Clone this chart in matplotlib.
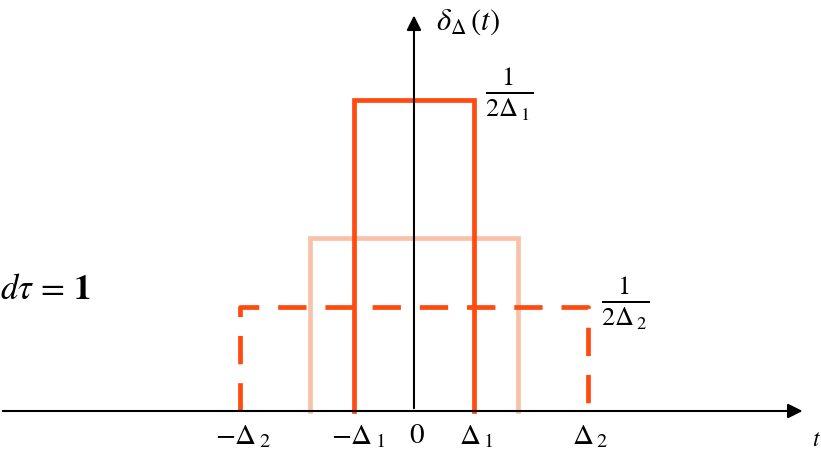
import matplotlib
matplotlib.use('Agg')
import matplotlib.pyplot as plt

plt.rcParams['mathtext.fontset'] = 'stix'
plt.rcParams['font.family'] = 'Liberation Serif'

# pulse half-widths (in units of Delta_1) and heights
half_widths = [1.03, 1.8, 3.0]
heights = [0.5, 0.278, 0.5 / 3.0]
colors = ['#ff4a10', '#f8c2aa', '#ff4a10']
styles = ['-', '-', '--']
order = [1, 2, 0]

tick_pos = [-3.0, -1.0, 0.0, 1.03, 3.0]
tick_labels = [r'$-\Delta\,_2$', r'$-\Delta\,_1$', r'$0$', r'$\Delta\,_1$', r'$\Delta\,_2$']

fig = plt.figure(figsize=(8.21, 4.56), dpi=100)
ax = fig.add_axes([0, 0, 1, 1])
ax.set_xlim(-7.14, 7.02)
ax.set_ylim(-0.0707, 0.662)
ax.axis('off')

for i in order:
    w, h = half_widths[i], heights[i]
    ax.plot([-w, -w, w, w], [0, h, h, 0], color=colors[i], lw=3.4,
            ls=styles[i], dashes=(6, 4) if styles[i] == '--' else (None, None),
            solid_joinstyle='miter', zorder=2 + (i == 0))

# axes arrows
ax.annotate('', xy=(6.75, 0), xytext=(-7.14, 0),
            arrowprops=dict(arrowstyle='-|>', lw=1.5, color='black', mutation_scale=22),
            zorder=5)
ax.annotate('', xy=(0, 0.64), xytext=(0, 0),
            arrowprops=dict(arrowstyle='-|>', lw=1.5, color='black', mutation_scale=22),
            zorder=5)

for p, lab in zip(tick_pos, tick_labels):
    ax.text(p + 0.05, -0.018, lab, ha='center', va='top', fontsize=21)

ax.text(0.38, 0.626, r'$\delta_{\Delta}\,(t)$', ha='left', va='center', fontsize=22)
ax.text(1.22, 0.51, r'$\frac{1}{2\Delta\,_1}$', ha='left', va='center', fontsize=27)
ax.text(3.22, 0.175, r'$\frac{1}{2\Delta\,_2}$', ha='left', va='center', fontsize=27)
ax.text(-7.14, 0.195, r'$d\tau\,=\,\mathbf{1}$', ha='left', va='center', fontsize=25)
ax.text(7.02, -0.045, r'$t$', ha='right', va='center', fontsize=17)

fig.savefig('out.png', dpi=100)
